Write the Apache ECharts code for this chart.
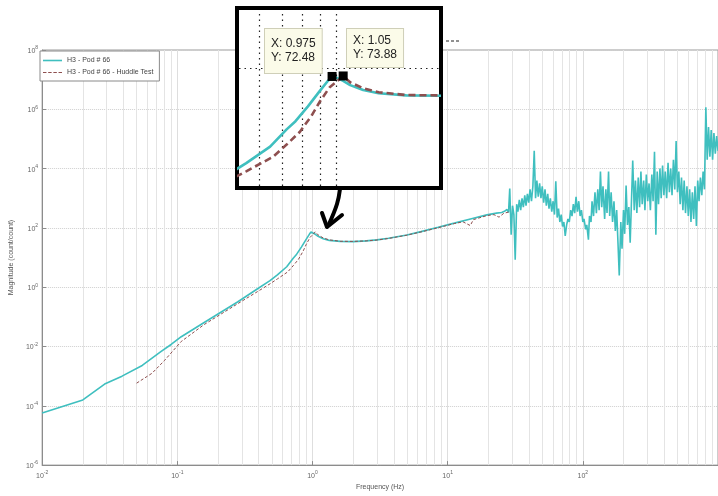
<!DOCTYPE html>
<html><head><meta charset="utf-8">
<script src="https://cdn.jsdelivr.net/npm/echarts@6/dist/echarts.min.js"></script>
<style>html,body{margin:0;padding:0;background:#fff}#c{width:718px;height:496px}</style>
</head><body><div id="c"></div>
<script>
// ---- data ----
const seriesNames = ['H3 - Pod # 66', 'H3 - Pod # 66 - Huddle Test'];

// smooth part of H3 - Pod # 66
const tealFreq = [0.01,0.02,0.029,0.039,0.055,0.076,0.09,0.107,0.157,0.279,0.39,0.485,0.55,0.645,0.72,0.764,0.83,0.9,0.95,0.975,1.0,1.05,1.1,1.2,1.33,1.6,2.0,2.5,3.0,3.65,5.0,6.35,8.5,11.2,15,19.5,23];
const tealMag  = [5.75e-5,1.58e-4,5.4e-4,1.0e-3,2.3e-3,6.8e-3,0.0117,0.0214,0.063,0.316,0.87,1.66,2.6,4.9,9.5,13,23,42,62,72.48,70,61,52,43,38,35,34.5,36.5,39.5,45,58,75,105,145,205,275,315];

// noisy high-frequency part of H3 - Pod # 66
const noiseFreq = [25.1,25.7,26.3,26.9,27.5,28.2,28.8,29.5,30.2,30.9,
  31.6,32.4,33.1,33.9,34.7,35.5,36.3,37.2,38.0,38.9,
  39.8,40.7,41.7,42.7,43.7,44.7,45.7,46.8,47.9,49.0,
  50.1,51.3,52.5,53.7,55.0,56.2,57.5,58.9,60.3,61.7,
  63.1,64.6,66.1,67.6,69.2,70.8,72.4,74.1,75.9,77.6,
  79.4,81.3,83.2,85.1,87.1,89.1,91.2,93.3,95.5,97.7,
  100,102,105,107,110,112,115,117,120,123,
  126,129,132,135,138,141,145,148,151,155,
  158,162,166,170,174,178,182,186,191,195,
  200,204,209,214,219,224,229,234,240,245,
  251,257,263,269,275,282,288,295,302,309,
  316,324,331,339,347,355,363,372,380,389,
  398,407,417,427,437,447,457,468,479,490,
  501,513,525,537,550,562,575,589,603,617,
  631,646,661,676,692,708,724,741,759,776,
  794,813,832,851,871,891,912,933,955,977,1000];
const noiseMag = [331,302,363,316,417,331,2138,58.9,562,282,
  8.5,631,355,891,398,1000,501,1259,562,1413,
  708,1995,794,2512,39811,1000,3981,1122,3162,1000,
  2512,708,1995,562,1413,447,1000,355,794,282,
  3715,224,447,158,282,112,158,53.7,126,200,
  158,398,251,631,316,1122,355,794,251,398,
  158,200,89,126,39.8,251,158,794,251,1585,
  316,1995,398,7943,501,2512,200,1995,316,7943,
  251,1585,158,794,79.4,398,31.6,2.5,158,20,
  398,63,2692,126,501,31.6,794,18621,398,3981,
  316,5012,501,7943,631,3981,398,6310,794,3162,
  398,6310,794,37154,58.9,7943,631,10000,1000,12589,
  1259,7943,1000,15849,1585,10000,1259,19953,1995,85114,
  1585,7943,631,5012,398,3981,316,2512,251,1995,
  158,1585,200,2512,117,3981,794,5012,1259,7943,
  1995,1174898,19953,251189,25119,199526,19953,158489,31623,125893,39811];

// H3 - Pod # 66 - Huddle Test
const hudFreq = [0.05,0.065,0.08,0.107,0.157,0.279,0.39,0.485,0.55,0.657,0.72,0.786,0.85,0.9,0.96,1.0,1.05,1.1,1.2,1.33,1.6,2.0,2.5,3.0,3.65,5,6.35,8.5,11.2,13,14.7,15.5,19.5,22,24,26,28.8];
const hudMag  = [5.8e-4,1.25e-3,3.3e-3,0.0148,0.054,0.275,0.7,1.3,1.9,3.3,5.3,8.6,16,28,48,58,73.88,58,46,39.5,35.5,35,36.5,39,44,57,73,101,140,160,120,190,260,280,230,310,350];

// data tips shown in the zoom inset
const tipTeal = [0.975, 72.48];
const tipHud  = [1.05, 73.88];

// axis decoration values
const minorGridFreqs = [0.02,0.03,0.04,0.05,0.06,0.07,0.08,0.09,0.2,0.3,0.4,0.5,0.6,0.7,0.8,0.9,2,3,4,5,6,7,8,9,20,30,40,50,60,70,80,90,200,300,400,500,600,700,800,900];
const insetGridFreqs = [0.6,0.7,0.8,0.9,1.0];
const insetGridMags = [100];

// ---- chart ----
const teal = '#3fbfbf';
const hud = '#8e4f4f';
const font = 'Liberation Sans, Arial, sans-serif';
const tealData = tealFreq.map((f,i)=>[f,tealMag[i]]).concat(noiseFreq.map((f,i)=>[f,noiseMag[i]]));
const hudData = hudFreq.map((f,i)=>[f,hudMag[i]]);

function powLabel(v){ const e = Math.round(Math.log10(v)); return '{b|10}{s|' + e + '}'; }
const rich = {
  b:{fontSize:7,color:'#666',fontFamily:font,lineHeight:9,verticalAlign:'bottom'},
  s:{fontSize:5,color:'#666',fontFamily:font,lineHeight:5,verticalAlign:'top'}
};
const dashIcon = 'path://M0,0h4v1.2h-4z M6,0h4v1.2h-4z M12,0h4v1.2h-4z M18,0h4v1.2h-4z';

const chart = echarts.init(document.getElementById('c'), null, {renderer:'canvas'});
chart.setOption({
  animation:false,
  backgroundColor:'#fff',
  grid:[
    {left:38, top:50, width:685, height:421, show:true, borderColor:'#9a9a9a', borderWidth:1, backgroundColor:'transparent'},
    {left:239, top:10, width:200, height:176}
  ],
  legend:{
    data:[{name:seriesNames[0], icon:'rect'}, {name:seriesNames[1], icon:dashIcon}],
    left:40, top:51, orient:'vertical', itemGap:5, itemWidth:19, itemHeight:1.6, z:10,
    padding:[6,6,5,3], backgroundColor:'#fff', borderColor:'#8a8a8a', borderWidth:1,
    textStyle:{fontSize:7, color:'#444', fontFamily:font}
  },
  xAxis:[
    {type:'log', logBase:10, min:0.01, max:1000, gridIndex:0,
     name:'Frequency (Hz)', nameLocation:'middle', nameGap:15,
     nameTextStyle:{fontSize:7,color:'#555',fontFamily:font},
     axisLine:{show:true, lineStyle:{color:'#8c8c8c'}},
     axisTick:{show:true, inside:true, length:4, lineStyle:{color:'#8c8c8c'}},
     axisLabel:{formatter:powLabel, rich:rich, margin:5, showMaxLabel:false},
     splitLine:{show:true, lineStyle:{color:'#dedede', width:1}}},
    {type:'log', logBase:10, min:0.524, max:1.99, gridIndex:1, show:false, z:60}
  ],
  yAxis:[
    {type:'log', logBase:100, min:1e-6, max:1e8, gridIndex:0,
     name:'Magnitude (count/count)', nameLocation:'middle', nameGap:23,
     nameTextStyle:{fontSize:7,color:'#555',fontFamily:font},
     axisLine:{show:true, lineStyle:{color:'#8c8c8c'}},
     axisTick:{show:true, inside:true, length:4, lineStyle:{color:'#8c8c8c'}},
     axisLabel:{formatter:powLabel, rich:rich, margin:4},
     splitLine:{show:true, lineStyle:{color:'#cfcfcf', width:1, type:'dotted'}}},
    {type:'log', logBase:10, min:1.08, max:930, gridIndex:1, show:false, z:60}
  ],
  series:[
    {name:'grid', type:'line', data:[], xAxisIndex:0, yAxisIndex:0, z:1, silent:true,
     markLine:{silent:true, z:1, symbol:'none', label:{show:false},
       lineStyle:{color:'#e4e4e4', width:1, type:'solid'},
       data:minorGridFreqs.map(v=>({xAxis:v}))}},
    {name:seriesNames[0], type:'line', data:tealData, xAxisIndex:0, yAxisIndex:0,
     showSymbol:false, symbol:'none', z:3, lineStyle:{color:teal, width:1.6}, itemStyle:{color:teal}},
    {name:seriesNames[1], type:'line', data:hudData, xAxisIndex:0, yAxisIndex:0,
     showSymbol:false, symbol:'none', z:4, lineStyle:{color:hud, width:1, type:[3,2]}, itemStyle:{color:hud}},
    // zoom inset
    {name:seriesNames[0], type:'line', data:tealData, xAxisIndex:1, yAxisIndex:1,
     showSymbol:false, symbol:'none', z:60, lineStyle:{color:teal, width:2.6}, itemStyle:{color:teal},
     markLine:{silent:true, z:58, symbol:'none', label:{show:false},
       lineStyle:{color:'#222', width:1.2, type:[1.5,4]},
       data:insetGridFreqs.map(v=>({xAxis:v})).concat(insetGridMags.map(v=>({yAxis:v})))},
     markPoint:{z:70, symbol:'rect', symbolSize:9, itemStyle:{color:'#000'}, label:{show:false},
       data:[{coord:tipTeal}]}},
    {name:seriesNames[1], type:'line', data:hudData, xAxisIndex:1, yAxisIndex:1,
     showSymbol:false, symbol:'none', z:61, lineStyle:{color:hud, width:2.6, type:[7,4]}, itemStyle:{color:hud},
     markPoint:{z:70, symbol:'rect', symbolSize:9, itemStyle:{color:'#000'}, label:{show:false},
       data:[{coord:tipHud}]}}
  ],
  graphic:[
    {type:'rect', z:50, shape:{x:237, y:8, width:204, height:180},
     style:{fill:'#fff', stroke:'#000', lineWidth:4}},
    {type:'text', z:80, x:265, y:29,
     style:{text:'X: 0.975\nY: 72.48', font:'12px ' + font, fill:'#222', lineHeight:14,
       backgroundColor:'#fbfbe9', borderColor:'#cfcfb8', borderWidth:1, padding:[8,6,8,6]}},
    {type:'text', z:80, x:347, y:29,
     style:{text:'X: 1.05\nY: 73.88', font:'12px ' + font, fill:'#222', lineHeight:14,
       backgroundColor:'#fbfbe9', borderColor:'#cfcfb8', borderWidth:1, padding:[5,6,5,6]}},
    {type:'polyline', z:80, shape:{points:[[340,189],[337,204],[329,224]], smooth:0.4},
     style:{stroke:'#000', lineWidth:4, fill:null, lineCap:'round'}},
    {type:'polyline', z:80, shape:{points:[[322,213],[327,227],[342,215]]},
     style:{stroke:'#000', lineWidth:4, fill:null, lineCap:'round', lineJoin:'round'}},
    {type:'line', z:80, shape:{x1:446, y1:41, x2:459, y2:41},
     style:{stroke:'#222', lineWidth:1, lineDash:[3,2]}}
  ]
});
</script></body></html>
